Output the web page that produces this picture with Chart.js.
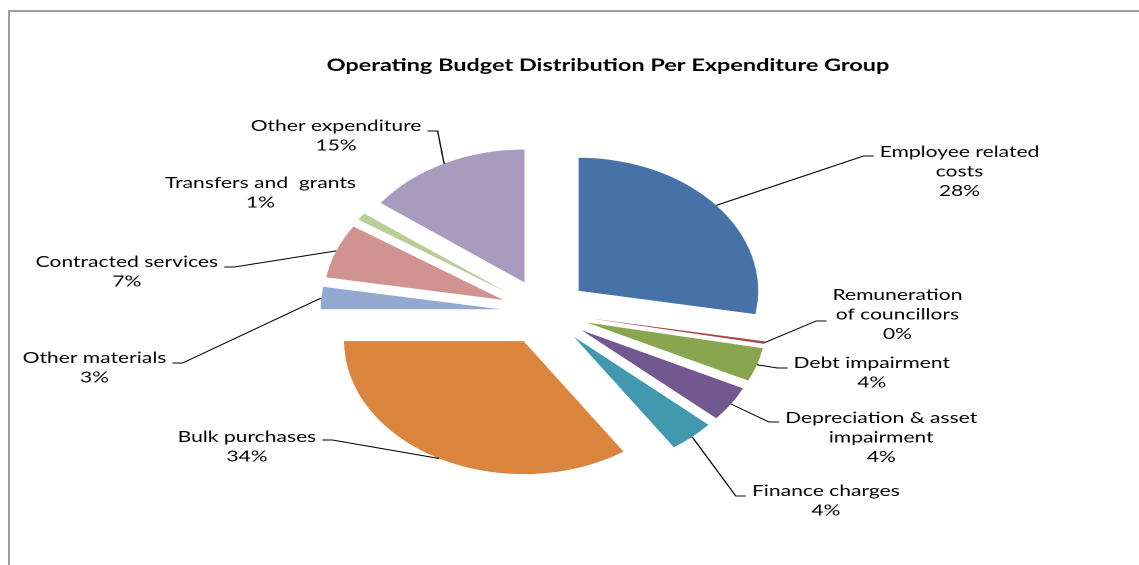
<!DOCTYPE html>
<html>
<head>
<meta charset="utf-8">
<title>Operating Budget Distribution Per Expenditure Group</title>
<script src="https://cdn.jsdelivr.net/npm/chart.js@4.4.0/dist/chart.umd.min.js"></script>
<style>
  html, body { margin: 0; padding: 0; background: #fff; overflow: hidden; }
  body { width: 1139px; height: 565px; position: relative; }
  /* chart area border, runs off the right and bottom edges */
  .frame {
    position: absolute; left: 8px; top: 10px; width: 1300px; height: 700px;
    border-top: 2px solid #9c9c9c; border-left: 2px solid #9c9c9c;
  }
  /* the workbook chart is wider than it is tall, so the whole drawing is stretched sideways */
  .stage {
    position: absolute; left: 0; top: 0; width: 844px; height: 565px;
    transform: scaleX(1.3495); transform-origin: 0 0;
  }
</style>
</head>
<body>
<div class="frame"></div>
<div class="stage"><canvas id="budgetPie"></canvas></div>
<script>
const chartTitle = 'Operating Budget Distribution Per Expenditure Group';

const categories = [
    ['Employee related', 'costs'],
    ['Remuneration', 'of councillors'],
    ['Debt impairment'],
    ['Depreciation & asset', 'impairment'],
    ['Finance charges'],
    ['Bulk purchases'],
    ['Other materials'],
    ['Contracted services'],
    ['Transfers and  grants'],
    ['Other expenditure']
];

// share of the operating budget, %
const shares = [27.8, 0.3, 4.1, 4.3, 4.1, 34.4, 2.7, 6.6, 0.9, 14.8];

const sliceColors = [
    '#4672A8', '#AA4643', '#89A54E', '#71588F', '#4198AF',
    '#DB843D', '#93A9CF', '#D19392', '#B9CD96', '#A99BBD'
];

const FONT = "Lato, 'Liberation Sans', Arial, sans-serif";
const PIE_RADIUS = 133;
const EXPLODE = 33;      // every slice pulled out by the same distance
const LINE_H = 19.6;
const GAP = 4.5, RUN = 7.5;

// label placement: centre x, first baseline, which side the leader comes in from, leader height
const labelSpots = [
    { cx: 711, y: 157, side: 'right', ly: 156 },
    { cx: 665, y: 300, side: 'right', ly: 321 },
    { cx: 646, y: 368, side: 'right', ly: 368 },
    { cx: 653, y: 423, side: 'right', ly: 422 },
    { cx: 612, y: 496, side: 'right', ly: 496 },
    { cx: 183, y: 442, side: 'left',  ly: 440 },
    { cx: 70,  y: 363, side: 'left',  ly: 363 },
    { cx: 94,  y: 267, side: 'left',  ly: 267 },
    { cx: 193, y: 188, side: null },
    { cx: 249, y: 131, side: 'left',  ly: 131 }
];

// draw each slice shifted out along its own bisector
const explodedSlices = {
    id: 'explodedSlices',
    beforeDatasetDraw(chart, args) {
        const ctx = chart.ctx;
        args.meta.data.forEach(arc => {
            const mid = (arc.startAngle + arc.endAngle) / 2;
            ctx.save();
            ctx.translate(Math.cos(mid) * EXPLODE, Math.sin(mid) * EXPLODE);
            arc.draw(ctx);
            ctx.restore();
        });
        return false;
    }
};

// title, data labels and leader lines
const sliceLabels = {
    id: 'sliceLabels',
    afterDraw(chart) {
        const ctx = chart.ctx;
        const arcs = chart.getDatasetMeta(0).data;
        const values = chart.data.datasets[0].data;
        const total = values.reduce((a, b) => a + b, 0);

        ctx.save();
        ctx.fillStyle = '#000';
        ctx.textAlign = 'center';
        ctx.textBaseline = 'alphabetic';
        ctx.font = `bold 17.4px ${FONT}`;
        ctx.fillText(chartTitle, 450.5, 71);

        ctx.font = `15.6px ${FONT}`;
        ctx.strokeStyle = '#000';
        ctx.lineWidth = 1;

        arcs.forEach((arc, i) => {
            const spot = labelSpots[i];
            const lines = chart.data.labels[i].concat(Math.round(values[i] / total * 100) + '%');
            const maxW = Math.max(...lines.map(l => ctx.measureText(l).width));

            lines.forEach((l, k) => ctx.fillText(l, spot.cx, spot.y + k * LINE_H));

            if (!spot.side) return;
            const mid = (arc.startAngle + arc.endAngle) / 2;
            const reach = EXPLODE + arc.outerRadius;
            const x0 = arc.x + Math.cos(mid) * reach;
            const y0 = arc.y + Math.sin(mid) * reach;
            const xEnd = spot.side === 'right' ? spot.cx - maxW / 2 - GAP : spot.cx + maxW / 2 + GAP;
            const xElbow = spot.side === 'right' ? xEnd - RUN : xEnd + RUN;

            ctx.beginPath();
            ctx.moveTo(x0, y0);
            ctx.lineTo(xElbow, spot.ly);
            ctx.lineTo(xEnd, spot.ly);
            ctx.stroke();
        });
        ctx.restore();
    }
};

new Chart(document.getElementById('budgetPie'), {
    type: 'pie',
    data: {
        labels: categories,
        datasets: [{
            data: shares,
            backgroundColor: sliceColors,
            borderWidth: 0,
            radius: PIE_RADIUS
        }]
    },
    options: {
        responsive: true,
        maintainAspectRatio: false,
        devicePixelRatio: 2,
        animation: false,
        layout: { padding: { top: 59, right: 37, bottom: 0, left: 0 } },
        plugins: {
            legend: { display: false },
            title: { display: false },
            tooltip: { enabled: false }
        }
    },
    plugins: [explodedSlices, sliceLabels]
});
</script>
</body>
</html>
